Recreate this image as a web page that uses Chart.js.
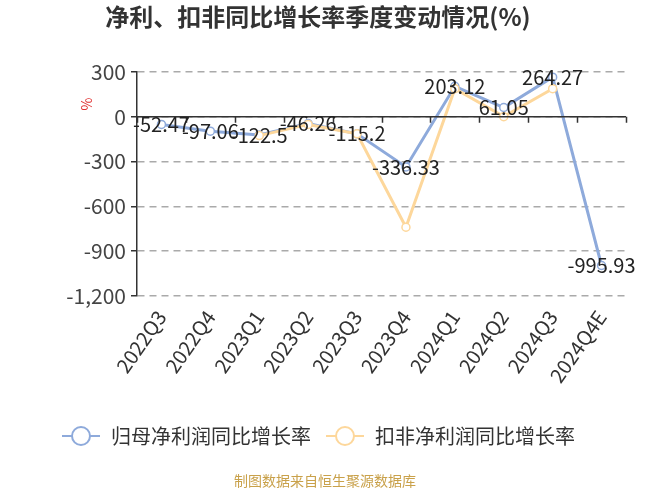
<!DOCTYPE html>
<html>
<head>
<meta charset="utf-8">
<script src="https://cdn.jsdelivr.net/npm/chart.js@4"></script>
<style>
    body { margin: 0; background: #fff; }
    #wrap { position: relative; width: 650px; height: 488px; }
    #footer { position: absolute; left: 0; width: 650px; top: 470px; text-align: center;
              font: 14px "Noto Sans CJK SC", sans-serif; color: #c9a14a; }
</style>
</head>
<body>
<div id="wrap">
    <canvas id="chart" width="650" height="488"></canvas>
    <div id="footer">制图数据来自恒生聚源数据库</div>
</div>
<script>
// ======================= Data =======================
const quarters = ["2022Q3", "2022Q4", "2023Q1", "2023Q2", "2023Q3", "2023Q4", "2024Q1", "2024Q2", "2024Q3", "2024Q4E"];
const netProfitGrowth = [-52.47, -97.06, -122.5, -46.26, -115.2, -336.33, 203.12, 61.05, 264.27, -995.93];
const deductedGrowth = [null, null, -127, -52, -115, -740, 187, 0, 187, null];
const yTicks = [300, 0, -300, -600, -900, -1200];

const blue = "#8eaadb";
const orange = "#fdd79b";
const font = "'Noto Sans CJK SC', 'Noto Sans', sans-serif";

function legendIcon(color) {
    const c = document.createElement("canvas");
    c.width = 40; c.height = 24;
    const ctx = c.getContext("2d");
    ctx.strokeStyle = color;
    ctx.lineWidth = 2;
    ctx.beginPath(); ctx.moveTo(1, 12); ctx.lineTo(39, 12); ctx.stroke();
    ctx.fillStyle = "#fff";
    ctx.beginPath(); ctx.arc(20, 12, 9, 0, Math.PI * 2); ctx.fill(); ctx.stroke();
    return c;
}

// zero axis line, x tick marks, "%" unit and point labels
const extras = {
    id: "extras",
    afterDraw(chart) {
        const { ctx, chartArea, scales } = chart;
        const y = scales.y;
        const y0 = y.getPixelForValue(0);
        ctx.save();
        ctx.strokeStyle = "#333";
        ctx.lineWidth = 1.5;
        ctx.beginPath();
        ctx.moveTo(chartArea.left, y0); ctx.lineTo(chartArea.right, y0);
        for (let i = 0; i <= quarters.length; i++) {
            const px = Math.round(chartArea.left + (chartArea.right - chartArea.left) * i / quarters.length) + 0.5;
            ctx.moveTo(px, y0); ctx.lineTo(px, y0 + 6);
        }
        ctx.stroke();

        ctx.fillStyle = "#e03030";
        ctx.font = "14px " + font;
        ctx.translate(87, 104);
        ctx.rotate(-Math.PI / 2);
        ctx.textAlign = "center";
        ctx.textBaseline = "middle";
        ctx.fillText("%", 0, 0);
        ctx.restore();

        ctx.save();
        ctx.font = "20px " + font;
        ctx.fillStyle = "#222";
        ctx.textAlign = "center";
        ctx.textBaseline = "middle";
        chart.getDatasetMeta(0).data.forEach((pt, i) => {
            ctx.fillText(String(netProfitGrowth[i]), pt.x, pt.y);
        });
        ctx.restore();
    }
};

new Chart(document.getElementById("chart"), {
    type: "line",
    data: {
        labels: quarters,
        datasets: [{
            label: "归母净利润同比增长率",
            data: netProfitGrowth,
            borderColor: blue,
            backgroundColor: "#fff",
            borderWidth: 3,
            pointRadius: 4,
            pointBorderWidth: 1.5,
            order: 2
        }, {
            label: "扣非净利润同比增长率",
            data: deductedGrowth,
            borderColor: orange,
            backgroundColor: "#fff",
            borderWidth: 3,
            pointRadius: 4,
            pointBorderWidth: 1.5,
            order: 1
        }]
    },
    options: {
        responsive: false,
        animation: false,
        layout: { padding: { left: 10, right: 24, top: 0, bottom: 32 } },
        plugins: {
            title: {
                display: true,
                text: "净利、扣非同比增长率季度变动情况(%)",
                color: "#333",
                font: { family: font, size: 24, weight: "bold" },
                padding: { top: 2, bottom: 41 }
            },
            legend: {
                position: "bottom",
                labels: {
                    color: "#333",
                    font: { family: font, size: 20 },
                    usePointStyle: true,
                    pointStyleWidth: 40,
                    generateLabels(chart) {
                        return chart.data.datasets.map((ds, i) => ({
                            text: ds.label,
                            pointStyle: legendIcon(ds.borderColor),
                            datasetIndex: i,
                            fontColor: "#333",
                            lineWidth: 0,
                            strokeStyle: "transparent",
                            fillStyle: "transparent"
                        }));
                    },
                    padding: 14
                }
            },
            tooltip: { enabled: false }
        },
        scales: {
            x: {
                offset: true,
                grid: { display: false },
                border: { display: false },
                afterFit(scale) { scale.height = 116; },
                ticks: {
                    color: "#333",
                    font: { family: font, size: 20 },
                    minRotation: 55,
                    maxRotation: 55,
                    padding: 2
                }
            },
            y: {
                min: -1200,
                max: 300,
                afterBuildTicks(scale) { scale.ticks = yTicks.map(v => ({ value: v })); },
                afterFit(scale) { scale.width = 127; },
                border: { display: true, color: "#333", width: 1.5, dash: [7, 5] },
                grid: {
                    color: "#aaa",
                    lineWidth: 1.5,
                    tickLength: 6,
                    tickColor: "#333",
                    tickBorderDash: [],
                    drawTicks: true
                },
                ticks: {
                    color: "#444",
                    font: { family: font, size: 21 },
                    padding: 5
                }
            }
        }
    },
    plugins: [extras]
});
</script>
</body>
</html>
